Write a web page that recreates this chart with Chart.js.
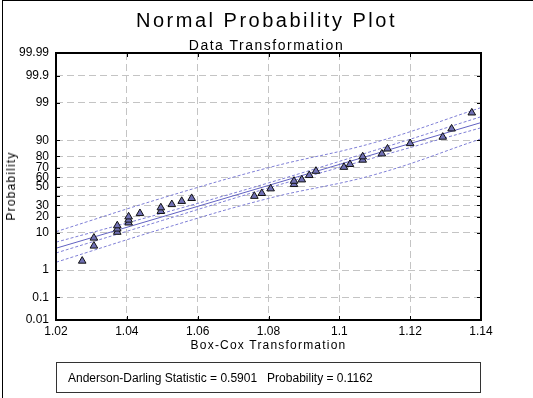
<!DOCTYPE html>
<html>
<head>
<meta charset="utf-8">
<script src="https://cdn.jsdelivr.net/npm/chart.js@4.4.1/dist/chart.umd.min.js"></script>
<style>
  html, body { margin: 0; padding: 0; background: #fff; }
  body { width: 533px; height: 398px; position: relative; overflow: hidden; font-family: Arial, "Liberation Sans", sans-serif; }
  #frame { position: absolute; left: 2px; top: 0; width: 600px; height: 500px; border: 1px solid #000; box-sizing: border-box; }
  #wrap { position: absolute; left: 0; top: 0; width: 533px; height: 398px; }
  .txt { position: absolute; white-space: nowrap; color: #000; line-height: 1; }
  #title { left: 0; width: 533px; text-align: center; top: 10px; font-size: 20px; letter-spacing: 2.5px; }
  #subtitle { left: 0; width: 533px; text-align: center; top: 38px; font-size: 14px; letter-spacing: 1.5px; }
  #xtitle { left: 56px; width: 425px; text-align: center; top: 339px; font-size: 12px; letter-spacing: 1.2px; }
  #ytitle { left: 11px; top: 186px; font-size: 12px; letter-spacing: 1.2px; transform: translate(-50%, -50%) rotate(-90deg); }
  #stats { position: absolute; left: 56px; top: 362px; width: 425px; height: 31px; border: 1px solid #333; box-sizing: border-box;
           font-size: 12px; white-space: pre; display: flex; align-items: center; padding-left: 11px; }
</style>
</head>
<body>
<div id="frame"></div>
<div id="wrap"><canvas id="npp"></canvas></div>
<div class="txt" id="title">Normal Probability Plot</div>
<div class="txt" id="subtitle">Data Transformation</div>
<div class="txt" id="xtitle">Box-Cox Transformation</div>
<div class="txt" id="ytitle">Probability</div>
<div id="stats">Anderson-Darling Statistic = 0.5901   Probability = 0.1162</div>
<script>
// observed values (Box-Cox transformed) and their plotted probabilities (%)
const obsX = [1.0274, 1.0307, 1.0307, 1.0373, 1.0373, 1.0373, 1.0405, 1.0405, 1.0405, 1.0437,
              1.0496, 1.0496, 1.0527, 1.0555, 1.0583, 1.0760, 1.0781, 1.0806, 1.0872, 1.0872,
              1.0894, 1.0915, 1.0934, 1.1013, 1.1030, 1.1066, 1.1066, 1.1120, 1.1136, 1.1200,
              1.1292, 1.1317, 1.1374];
const obsP = [1.9, 4.9, 7.6, 10.2, 11.9, 13.8, 15.6, 17.6, 20.0, 22.7,
              24.5, 27.8, 30.9, 34.1, 37.1, 39.4, 42.5, 47.6, 52.4, 56.0,
              57.5, 62.2, 66.6, 70.5, 73.2, 77.0, 79.7, 81.9, 85.3, 88.5,
              91.6, 94.6, 98.0];

// fitted line and confidence bands (probability %)
const fitX = [1.02, 1.14];
const fitP = [4.27, 96.25];
const bandX = [1.02, 1.05, 1.08, 1.11, 1.14];
const innerUpP = [6.05, 22.8, 54.0, 84.3, 97.4];
const innerLoP = [3.2, 17.2, 48.4, 79.0, 94.9];
const outerUpP = [10.4, 37.4, 70.0, 89.0, 98.6];
const outerLoP = [1.74, 11.9, 37.0, 63.0, 90.8];

// axis ticks
const xTicks = [1.02, 1.04, 1.06, 1.08, 1.10, 1.12, 1.14];
const xTickLabels = ['1.02', '1.04', '1.06', '1.08', '1.1', '1.12', '1.14'];
const yTicks = [0.01, 0.1, 1, 10, 20, 30, 40, 50, 60, 70, 80, 90, 99, 99.9, 99.99];
const yTickLabels = ['0.01', '0.1', '1', '10', '20', '30', '', '50', '60', '70', '80', '90', '99', '99.9', '99.99'];

// inverse normal cdf (Acklam) - maps probability to the normal score axis
function probit(p) {
  const a = [-3.969683028665376e+01, 2.209460984245205e+02, -2.759285104469687e+02, 1.383577518672690e+02, -3.066479806614716e+01, 2.506628277459239e+00];
  const b = [-5.447609879822406e+01, 1.615858368580409e+02, -1.556989798598866e+02, 6.680131188771972e+01, -1.328068155288572e+01];
  const c = [-7.784894002430293e-03, -3.223964580411365e-01, -2.400758277161838e+00, -2.549671010243972e+00, 4.374664141464968e+00, 2.938163982698783e+00];
  const d = [7.784695709041462e-03, 3.224671290700398e-01, 2.445134137142996e+00, 3.754408661907416e+00];
  const pl = 0.02425;
  let q, r;
  if (p < pl) {
    q = Math.sqrt(-2 * Math.log(p));
    return (((((c[0]*q+c[1])*q+c[2])*q+c[3])*q+c[4])*q+c[5]) / ((((d[0]*q+d[1])*q+d[2])*q+d[3])*q+1);
  }
  if (p > 1 - pl) {
    q = Math.sqrt(-2 * Math.log(1 - p));
    return -(((((c[0]*q+c[1])*q+c[2])*q+c[3])*q+c[4])*q+c[5]) / ((((d[0]*q+d[1])*q+d[2])*q+d[3])*q+1);
  }
  q = p - 0.5; r = q * q;
  return (((((a[0]*r+a[1])*r+a[2])*r+a[3])*r+a[4])*r+a[5])*q / (((((b[0]*r+b[1])*r+b[2])*r+b[3])*r+b[4])*r+1);
}

const toPoints = (xs, ps) => xs.map((x, i) => ({ x: x, y: probit(ps[i] / 100) }));

// frame around plot area with small inward tick marks
const plotFrame = {
  id: 'plotFrame',
  afterDraw(chart) {
    const { ctx, chartArea: a, scales } = chart;
    ctx.save();
    ctx.strokeStyle = '#000';
    ctx.lineWidth = 1;
    ctx.beginPath();
    scales.x.ticks.forEach(t => {
      const px = Math.round(scales.x.getPixelForValue(t.value)) + 0.5;
      ctx.moveTo(px, a.top); ctx.lineTo(px, a.top + 4);
      ctx.moveTo(px, a.bottom); ctx.lineTo(px, a.bottom - 4);
    });
    scales.y.ticks.forEach(t => {
      const py = Math.round(scales.y.getPixelForValue(t.value)) + 0.5;
      ctx.moveTo(a.left, py); ctx.lineTo(a.left + 4, py);
      ctx.moveTo(a.right, py); ctx.lineTo(a.right - 4, py);
    });
    ctx.stroke();
    ctx.lineWidth = 2;
    ctx.strokeRect(a.left, a.top, a.right - a.left, a.bottom - a.top);
    ctx.restore();
  }
};

const bandStyle = {
  type: 'line',
  borderColor: '#7f7fd6',
  borderWidth: 1,
  borderDash: [3, 2],
  pointRadius: 0,
  tension: 0.4,
  fill: false
};

new Chart(document.getElementById('npp'), {
  type: 'scatter',
  data: {
    datasets: [
      {
        label: 'Observations',
        data: toPoints(obsX, obsP),
        pointStyle: 'triangle',
        pointRadius: 4.4,
        backgroundColor: '#7070b4',
        borderColor: '#111',
        borderWidth: 1
      },
      {
        type: 'line',
        label: 'Fit',
        data: toPoints(fitX, fitP),
        borderColor: '#6262c2',
        borderWidth: 1,
        pointRadius: 0
      },
      Object.assign({ label: 'Inner upper', data: toPoints(bandX, innerUpP) }, bandStyle),
      Object.assign({ label: 'Inner lower', data: toPoints(bandX, innerLoP) }, bandStyle),
      Object.assign({ label: 'Outer upper', data: toPoints(bandX, outerUpP) }, bandStyle),
      Object.assign({ label: 'Outer lower', data: toPoints(bandX, outerLoP) }, bandStyle)
    ]
  },
  options: {
    responsive: true,
    maintainAspectRatio: false,
    animation: false,
    layout: { padding: { left: 0, top: 53, right: 52, bottom: 48 } },
    plugins: {
      legend: { display: false },
      tooltip: { enabled: false }
    },
    scales: {
      x: {
        type: 'linear',
        min: 1.02,
        max: 1.14,
        afterFit(scale) { scale.height = 30; },
        afterBuildTicks(scale) { scale.ticks = xTicks.map(v => ({ value: v })); },
        grid: { color: '#c4c4c4', lineWidth: 1, drawTicks: false },
        border: { display: false, dash: [7, 4] },
        ticks: {
          color: '#000',
          padding: 4,
          autoSkip: false,
          maxRotation: 0,
          font: { family: 'Arial, "Liberation Sans"', size: 12 },
          callback: (v, i) => xTickLabels[i]
        }
      },
      y: {
        type: 'linear',
        min: probit(0.0001),
        max: probit(0.9999),
        afterFit(scale) { scale.width = 56; },
        afterBuildTicks(scale) { scale.ticks = yTicks.map(p => ({ value: probit(p / 100) })); },
        grid: { color: '#c4c4c4', lineWidth: 1, drawTicks: false },
        border: { display: false, dash: [7, 4] },
        ticks: {
          color: '#000',
          padding: 7,
          autoSkip: false,
          font: { family: 'Arial, "Liberation Sans"', size: 12 },
          callback: (v, i) => yTickLabels[i]
        }
      }
    }
  },
  plugins: [plotFrame]
});
</script>
</body>
</html>
